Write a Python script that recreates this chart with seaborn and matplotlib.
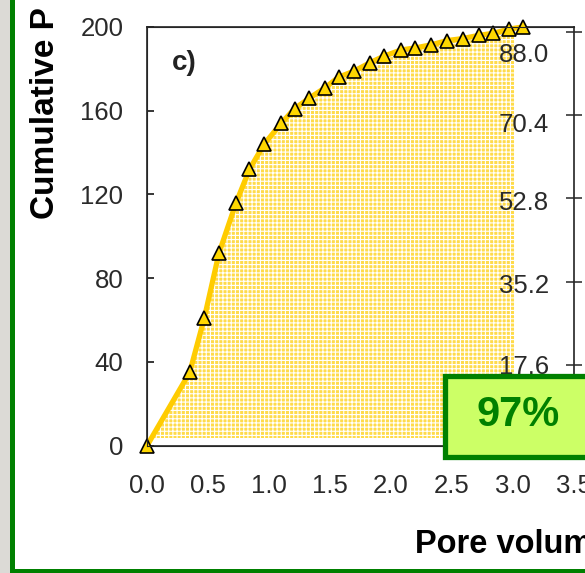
import numpy as np
import pandas as pd
import seaborn as sns
import matplotlib.pyplot as plt
from matplotlib.patches import Rectangle
from matplotlib.transforms import ScaledTranslation

## data
pore_volume = [0.0, 0.35, 0.47, 0.59, 0.73, 0.84, 0.96, 1.10, 1.21, 1.33, 1.46, 1.57,
               1.70, 1.83, 1.94, 2.08, 2.20, 2.33, 2.46, 2.59, 2.72, 2.84, 2.97, 3.08]
cumulative = [0, 35, 61, 92, 116, 132, 144, 154, 161, 166, 171, 176,
              179, 183, 186, 189, 190, 191.5, 193.5, 194.5, 196, 197, 199, 200]
left_ticks = [0, 40, 80, 120, 160, 200]
right_ticks = [17.6, 35.2, 52.8, 70.4, 88.0]
x_ticks = [0.0, 0.5, 1.0, 1.5, 2.0, 2.5, 3.0, 3.5]
panel_label = "c)"
box_text = "97%"
ylabel = "Cumulative P [mm³/g]"
xlabel = "Pore volume [nm]"

df = pd.DataFrame({"pv": pore_volume, "cum": cumulative})

## style
sns.set_style("white")
plt.rcParams["font.family"] = ["Liberation Sans", "DejaVu Sans"]
plt.rcParams["hatch.linewidth"] = 0.8
plt.rcParams["hatch.color"] = "white"

GOLD = "#FFCC00"
GREEN = "#008000"
TICK_FS = 18.5

fig = plt.figure(figsize=(5.85, 5.73), dpi=100)
ax = fig.add_axes([0.2513, 0.2222, 0.7299, 0.7307])

# stippled fill under the curve
poly = ax.fill_between(df.pv, 0, df.cum, facecolor="#FFDB4B", edgecolor="white",
                       hatch="++++", linewidth=0, zorder=1)
clip = Rectangle((0, 3.5), 3.02, 220, transform=ax.transData)
poly.set_clip_path(clip)

sns.lineplot(data=df, x="pv", y="cum", ax=ax, color=GOLD, linewidth=3.8,
             marker="^", markersize=9.5, markerfacecolor="#FFD700",
             markeredgecolor="black", markeredgewidth=1.2, clip_on=False,
             zorder=3, sort=False)

ax.set_xlim(0, 3.5)
ax.set_ylim(0, 200)
ax.set_xticks(x_ticks)
ax.set_xticklabels([f"{v:.1f}" for v in x_ticks])
ax.set_yticks(left_ticks)
ax.set_xlabel("")
ax.set_ylabel("")
ax.tick_params(axis="both", direction="in", length=5, width=1.1, colors="black",
               labelsize=TICK_FS, labelcolor="#2a2a2a")
ax.tick_params(axis="y", pad=17)
ax.tick_params(axis="x", pad=20.5)
for sp in ax.spines.values():
    sp.set_visible(True)
    sp.set_linewidth(1.2)
    sp.set_color("#222222")

ax.text(0.058, 0.897, panel_label, transform=ax.transAxes, fontsize=20,
        fontweight="bold", va="baseline", ha="left", color="#222222")

# right axis, labels inside
ax2 = ax.twinx()
ax2.set_ylim(0.55, 89.0)
ax2.set_yticks(right_ticks)
ax2.set_yticklabels([f"{v:.1f}" for v in right_ticks])
ax2.tick_params(axis="y", direction="inout", length=11.5, width=1.1,
                pad=-24, labelsize=TICK_FS, labelcolor="#2a2a2a")
ax2.spines["right"].set_visible(False)
offsets = [0, 2, 2, 7, 21]
for lab, off in zip(ax2.get_yticklabels(), offsets):
    lab.set_horizontalalignment("right")
    lab.set_transform(lab.get_transform() + ScaledTranslation(0, -off / 100, fig.dpi_scale_trans))
ax2.grid(False)

# axis titles (cut by the frame like the screenshot)
fig.text(46 / 585, 1 - 219 / 573, ylabel, rotation=90, ha="center", va="bottom",
         fontsize=24, fontweight="bold", color="black")
fig.text(415 / 585, 1 - 553 / 573, xlabel, ha="left", va="baseline",
         fontsize=23.5, fontweight="bold", color="black")

# percentage box
fig.add_artist(Rectangle((445 / 585, 1 - 457 / 573), 0.3, 81 / 573,
                         transform=fig.transFigure, facecolor="#CCFF66",
                         edgecolor=GREEN, linewidth=3.8, zorder=10))
fig.text(518 / 585, 1 - 415 / 573, box_text, ha="center", va="center",
         fontsize=30, fontweight="bold", color=GREEN, zorder=11)

# screenshot frame
fig.add_artist(Rectangle((0, 0), 10 / 585, 1, transform=fig.transFigure,
                         facecolor="#DCDAD6", edgecolor="none", zorder=9))
fig.add_artist(Rectangle((10 / 585, 0), 5 / 585, 1, transform=fig.transFigure,
                         facecolor=GREEN, edgecolor="none", zorder=9))
fig.add_artist(Rectangle((10 / 585, 0), 1, 4 / 573, transform=fig.transFigure,
                         facecolor=GREEN, edgecolor="none", zorder=9))

fig.savefig("out.png", dpi=100)
